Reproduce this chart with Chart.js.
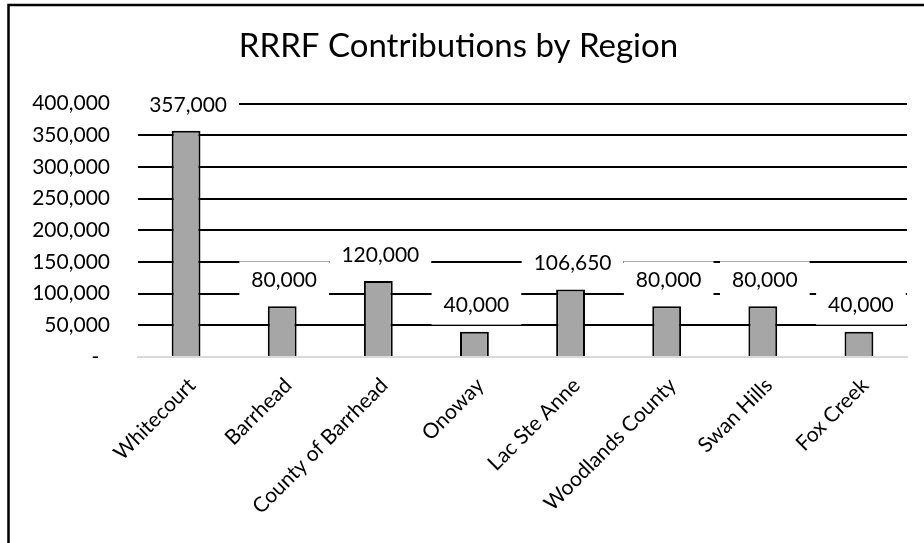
<!DOCTYPE html>
<html>
<head>
<meta charset="utf-8">
<script src="https://cdn.jsdelivr.net/npm/chart.js@4/dist/chart.umd.min.js"></script>
<style>
  html, body { margin: 0; padding: 0; background: #fff; }
  #wrap { width: 924px; height: 543px; position: relative; }
</style>
</head>
<body>
<div id="wrap"><canvas id="chart" width="924" height="543"></canvas></div>
<script>
const regions = ['Whitecourt', 'Barrhead', 'County of Barrhead', 'Onoway', 'Lac Ste Anne', 'Woodlands County', 'Swan Hills', 'Fox Creek'];
const contributions = [357000, 80000, 120000, 40000, 106650, 80000, 80000, 40000];
const yTicks = [0, 50000, 100000, 150000, 200000, 250000, 300000, 350000, 400000];

const FONT = 'Lato, "Open Sans", sans-serif';
const fmt = n => n.toLocaleString('en-US');

// frame like the excel chart area (top + left edges visible)
const framePlugin = {
  id: 'frame',
  beforeDraw(chart) {
    const ctx = chart.ctx;
    ctx.save();
    ctx.strokeStyle = '#000';
    ctx.lineWidth = 2.5;
    ctx.beginPath();
    ctx.moveTo(8.5, 543);
    ctx.lineTo(8.5, 5);
    ctx.lineTo(924, 5);
    ctx.stroke();
    ctx.restore();
  }
};

// value labels above bars, white box hides the gridlines behind
const valueLabels = {
  id: 'valueLabels',
  afterDatasetsDraw(chart) {
    const ctx = chart.ctx;
    const meta = chart.getDatasetMeta(0);
    ctx.save();
    ctx.font = '21px ' + FONT;
    ctx.textAlign = 'center';
    ctx.textBaseline = 'middle';
    meta.data.forEach((bar, i) => {
      const txt = fmt(contributions[i]);
      const w = ctx.measureText(txt).width + 24;
      const h = 38;
      const cy = bar.y - 26;
      ctx.fillStyle = '#fff';
      ctx.fillRect(bar.x + 2 - w / 2, cy - h / 2, w, h);
      ctx.fillStyle = '#000';
      ctx.fillText(txt, bar.x + 2, cy);
    });
    ctx.restore();
  }
};

new Chart(document.getElementById('chart'), {
  type: 'bar',
  data: {
    labels: regions,
    datasets: [{
      data: contributions,
      backgroundColor: '#a6a6a6',
      borderColor: '#000',
      borderWidth: 2,
      borderSkipped: 'bottom',
      categoryPercentage: 1,
      barPercentage: 0.3
    }]
  },
  options: {
    responsive: false,
    animation: false,
    layout: { padding: { left: 10, right: 17, top: 0, bottom: 0 } },
    plugins: {
      legend: { display: false },
      tooltip: { enabled: false },
      title: {
        display: true,
        text: 'RRRF Contributions by Region',
        color: '#000',
        font: { family: FONT, size: 33, weight: 'normal' },
        padding: { top: 27, bottom: 37 }
      }
    },
    scales: {
      x: {
        grid: { display: false },
        border: { display: true, color: '#d9d9d9', width: 2 },
        ticks: {
          color: '#000',
          font: { family: FONT, size: 21 },
          minRotation: 45,
          maxRotation: 45,
          autoSkip: false,
          padding: 8,
          labelOffset: 6
        },
        afterFit(scale) { scale.height = 186; }
      },
      y: {
        min: 0,
        max: 400000,
        afterBuildTicks(scale) { scale.ticks = yTicks.map(v => ({ value: v })); },
        border: { display: false },
        grid: {
          color: c => c.tick && c.tick.value === 0 ? '#d9d9d9' : '#000',
          lineWidth: 2,
          drawTicks: false
        },
        ticks: {
          color: '#000',
          font: { family: FONT, size: 21 },
          padding: 28,
          callback: v => v === 0 ? '-  ' : fmt(v)
        },
        afterFit(scale) { scale.width = 128; }
      }
    }
  },
  plugins: [framePlugin, valueLabels]
});
</script>
</body>
</html>
